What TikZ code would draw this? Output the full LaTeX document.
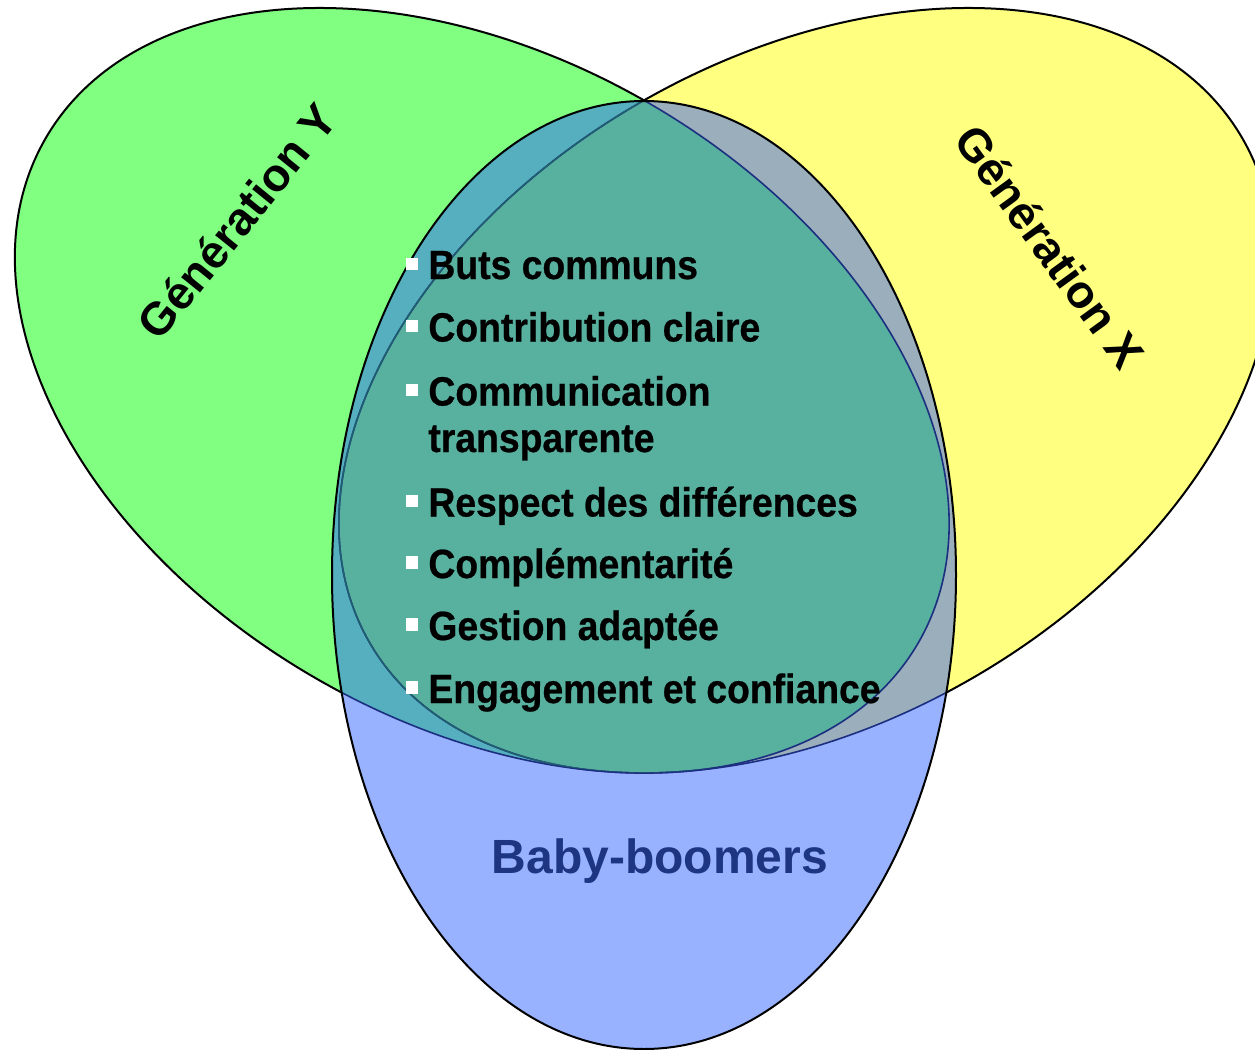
\documentclass[tikz,border=0pt]{standalone}
\usepackage{fontspec}
\setmainfont{Liberation Sans}
\newfontfamily\itemfont{Liberation Sans}[FakeStretch=0.915,FakeBold=0.6]
\definecolor{cgreen}{HTML}{80FF80}
\definecolor{cyellow}{HTML}{FFFF80}
\definecolor{cblue}{HTML}{98B2FF}
\definecolor{cgb}{HTML}{55AFBF}
\definecolor{cyb}{HTML}{9AAFBB}
\definecolor{cgyb}{HTML}{58B09F}
\definecolor{cnavy}{HTML}{1C2E80}
\definecolor{cteal}{HTML}{1F5E70}
\definecolor{cbb}{HTML}{1E3582}
\begin{document}
\begin{tikzpicture}[x=0.5pt,y=-0.5pt,
  gell/.style={rotate around={-30:(482,390.5)}},
  yell/.style={rotate around={30:(806,390.5)}},
  outline/.style={line width=1pt},
  innerline/.style={line width=0.8pt},
  gen/.style={font=\fontsize{23}{26}\selectfont\bfseries, text=black, inner sep=0pt},
  item/.style={font=\itemfont\fontsize{20.4}{22}\selectfont\bfseries, text=black, anchor=base west, inner sep=0pt},
  bul/.style={fill=white, draw=none, minimum size=6.4pt, inner sep=0pt},
  bbtext/.style={font=\fontsize{24}{27}\selectfont\bfseries, text=cbb, anchor=base, inner sep=0pt}]
\useasboundingbox (0,0) rectangle (1255,1050);
\clip (0,0) rectangle (1255,1050);
% green and yellow with black outlines
\filldraw[fill=cgreen, draw=black, outline, gell] (482,390.5) ellipse [x radius=504, y radius=332.3];
\filldraw[fill=cyellow, draw=black, outline, yell] (806,390.5) ellipse [x radius=504, y radius=332.3];
% blue base
\fill[cblue] (644,575) ellipse [x radius=312, y radius=474];
% overlaps inside blue
\begin{scope}
  \clip (644,575) ellipse [x radius=312, y radius=474];
  \fill[cgb, gell] (482,390.5) ellipse [x radius=504, y radius=332.3];
  \fill[cyb, yell] (806,390.5) ellipse [x radius=504, y radius=332.3];
  \begin{scope}
    \clip[gell] (482,390.5) ellipse [x radius=504, y radius=332.3];
    \fill[cgyb, yell] (806,390.5) ellipse [x radius=504, y radius=332.3];
  \end{scope}
  \draw[cnavy, innerline, yell] (806,390.5) ellipse [x radius=504, y radius=332.3];
  \draw[cnavy, innerline, gell] (482,390.5) ellipse [x radius=504, y radius=332.3];
  \begin{scope}
    \clip[gell] (482,390.5) ellipse [x radius=503.5, y radius=331.8];
    \draw[cteal, innerline, yell] (806,390.5) ellipse [x radius=504, y radius=332.3];
  \end{scope}
\end{scope}
\draw[black, outline] (644,575) ellipse [x radius=312, y radius=474];
% labels
\node[gen, rotate=51] (gy) at (237,221) {Génération Y};
\node[gen, rotate=-54] (gx) at (1050,247) {Génération X};
\node[bbtext] (bb) at (660,873) {Baby-boomers};
% bullets
\node[bul] (b1) at (412,264) {};
\node[bul] (b2) at (412,326) {};
\node[bul] (b3) at (412,390) {};
\node[bul] (b4) at (412,501) {};
\node[bul] (b5) at (412,562.5) {};
\node[bul] (b6) at (412,624.5) {};
\node[bul] (b7) at (412,687.5) {};
\node[item] (t1) at (428,279) {Buts communs};
\node[item] (t2) at (428,341.5) {Contribution claire};
\node[item] (t3) at (428,405.5) {Communication};
\node[item] (t3b) at (428,452) {transparente};
\node[item] (t4) at (428,516.5) {Respect des différences};
\node[item] (t5) at (428,578) {Complémentarité};
\node[item] (t6) at (428,640) {Gestion adaptée};
\node[item] (t7) at (428,703) {Engagement et confiance};
\end{tikzpicture}
\end{document}
